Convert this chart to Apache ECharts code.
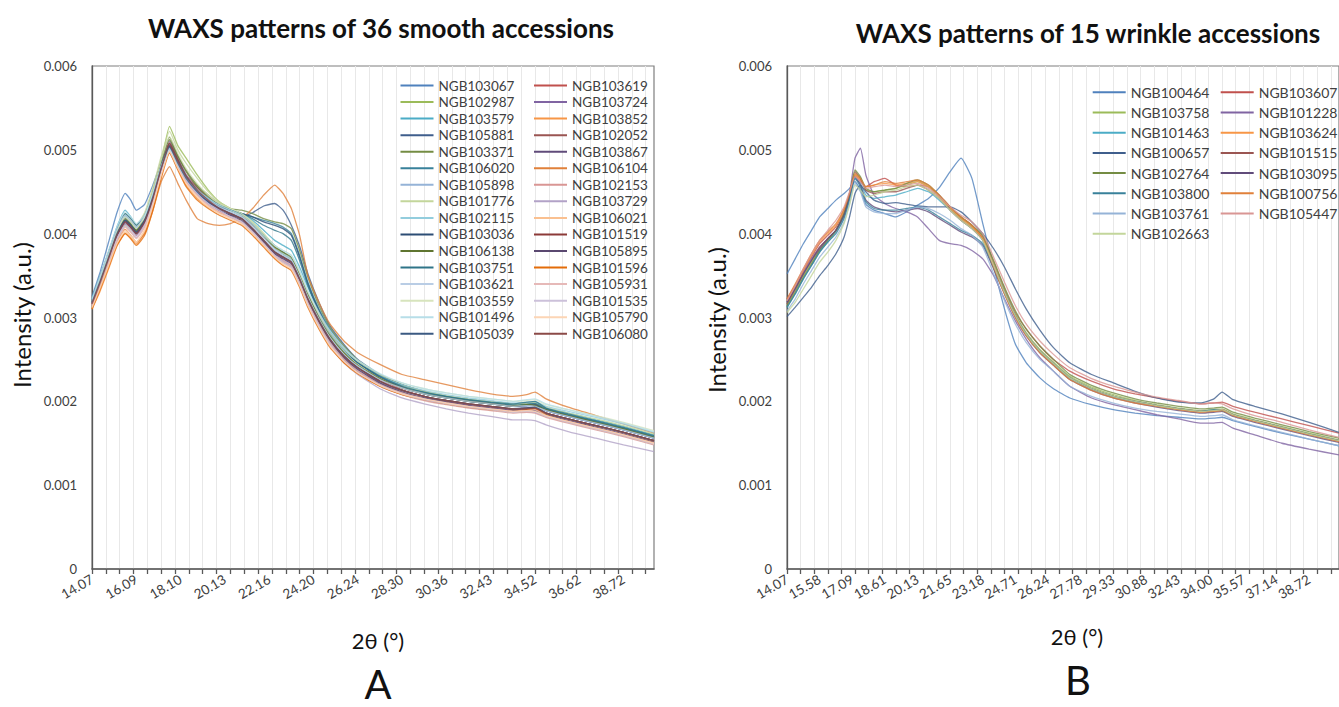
<!DOCTYPE html>
<html><head><meta charset="utf-8">
<script src="https://cdn.jsdelivr.net/npm/echarts@6/dist/echarts.min.js"></script>
<style>html,body{margin:0;padding:0;background:#fff}#c{width:1339px;height:707px}</style>
</head><body><div id="c"></div>
<script>
// ---------- DATA ----------
// x: channel index along the 2θ axis (one tick every 5 channels); tick labels are 2θ (°)
const tickLabelsA = ['14.07','16.09','18.10','20.13','22.16','24.20','26.24','28.30','30.36','32.43','34.52','36.62','38.72'];
const tickLabelsB = ['14.07','15.58','17.09','18.61','20.13','21.65','23.18','24.71','26.24','27.78','29.33','30.88','32.43','34.00','35.57','37.14','38.72'];
const xA = [0,3,6,9,12,14,16,19,22,25,28,31,34,38,42,46,50,54,58,62,66,69,72,75,78,82,86,91,96,104,112,120,128,136,144,152,157,160,164,172,182,192,203];
const xB = [0,3,6,9,12,15,18,21,23,25,27,29,32,36,40,44,48,52,56,60,64,68,72,76,80,84,88,93,98,104,112,120,128,136,144,152,157,160,164,172,182,192,203];
const UNIT = 1e-5; // intensities below are in 1e-5 a.u.

// Panel A: smooth accessions
const A_NGB103067 = [325,355,390,425,448,440,428,435,458,485,505,484,465,450,438,430,425,420,410,398,386,378,370,348,326,300,278,258,243,227,216,209,204,200,197,194,193,192,189,182,174,166,156];
const A_NGB103619 = [316,340,368,395,412,407,398,410,440,476,503,488,470,455,442,432,425,420,410,396,383,376,370,350,328,302,280,258,242,226,214,206,200,196,193,190,191,192,186,179,171,163,153];
const A_NGB102987 = [312,338,365,392,410,405,400,415,445,485,528,505,490,470,452,438,430,424,414,400,385,376,368,345,322,296,275,256,242,227,217,210,205,201,198,195,196,195,190,183,176,168,158];
const A_NGB103724 = [320,345,370,398,415,410,402,416,442,478,510,490,470,453,440,431,424,418,405,390,376,370,364,344,320,294,272,252,238,222,211,204,199,195,192,189,190,191,184,177,169,161,151];
const A_NGB103579 = [322,350,378,408,428,420,410,420,446,480,500,482,466,452,442,434,428,424,416,404,392,386,380,360,336,308,284,262,246,229,218,211,206,202,199,196,197,198,192,186,178,170,160];
const A_NGB103852 = [310,332,358,385,400,395,388,402,432,470,500,478,458,442,432,425,420,412,400,386,372,366,360,340,316,290,268,250,236,220,210,203,198,194,191,188,189,190,183,176,168,160,151];
const A_NGB105881 = [318,344,372,402,420,414,406,418,444,478,498,480,462,448,436,428,422,420,425,433,436,428,410,385,352,318,290,268,250,232,220,212,206,202,198,196,198,197,191,184,176,168,158];
const A_NGB102052 = [320,346,374,400,416,410,404,418,446,482,508,488,468,452,440,430,424,418,406,392,378,372,366,346,322,296,274,254,240,224,213,206,201,197,194,191,192,191,186,179,171,163,153];
const A_NGB103371 = [316,342,370,398,416,411,404,418,448,488,515,494,476,458,446,436,430,428,424,418,414,412,406,380,348,314,288,266,249,232,220,212,206,202,198,195,196,197,190,183,175,167,157];
const A_NGB103867 = [318,344,370,396,412,407,400,414,442,476,504,486,466,450,438,428,420,414,402,388,374,368,362,342,318,292,270,250,236,220,209,202,197,193,190,187,188,187,182,175,167,159,149];
const A_NGB106020 = [320,348,376,404,422,416,408,420,446,480,502,484,466,452,442,434,428,424,420,416,412,408,400,374,342,310,286,264,248,231,219,211,206,202,199,196,197,198,191,184,176,168,158];
const A_NGB106104 = [312,336,362,390,405,398,390,400,428,462,480,460,440,418,412,410,412,418,430,446,458,448,430,398,350,318,292,272,258,244,232,226,220,214,209,206,208,211,203,193,183,173,162];
const A_NGB105898 = [322,350,378,406,424,418,410,420,446,478,496,478,462,448,438,430,424,418,406,392,380,374,368,348,324,298,276,256,242,227,216,209,204,200,197,194,195,194,189,182,174,166,156];
const A_NGB102153 = [314,340,366,392,408,402,395,408,436,472,498,480,462,446,434,426,420,414,402,388,374,366,360,340,316,290,268,248,234,218,208,201,196,192,189,186,187,186,181,174,166,158,148];
const A_NGB101776 = [318,346,376,404,424,418,410,425,455,492,522,500,484,466,450,438,430,424,412,398,384,377,370,350,326,300,278,258,244,228,218,212,207,203,200,197,198,199,193,186,179,171,161];
const A_NGB103729 = [316,342,368,395,412,406,398,412,440,474,500,482,464,448,436,428,420,414,402,388,374,366,360,338,314,288,266,246,232,215,204,197,191,186,182,178,178,177,172,164,156,148,140];
const A_NGB102115 = [320,348,376,404,420,414,406,418,446,482,506,486,468,452,440,432,426,420,410,396,382,376,370,350,328,302,280,260,246,230,220,213,208,204,201,198,199,200,194,188,181,173,163];
const A_NGB106021 = [312,336,362,388,402,396,390,404,434,470,498,478,460,444,432,424,418,412,400,386,372,364,358,338,314,288,266,246,233,218,208,202,197,193,190,187,188,188,182,175,167,159,149];
const A_NGB103036 = [318,344,372,400,416,410,402,416,444,480,506,486,468,452,440,432,428,424,420,414,410,406,398,372,340,308,283,262,246,229,217,209,204,200,197,194,195,196,189,182,174,166,156];
const A_NGB101519 = [316,342,370,398,414,408,401,415,444,480,508,488,468,452,440,430,424,418,406,392,378,372,366,346,322,296,274,254,240,224,213,206,201,197,194,191,192,193,186,179,171,163,153];
const A_NGB106138 = [320,346,374,402,418,412,404,420,450,486,512,492,474,456,444,434,428,422,412,398,384,378,372,352,328,300,278,258,243,227,216,209,204,200,197,194,196,195,190,183,175,167,157];
const A_NGB105895 = [318,344,372,398,414,408,400,414,442,478,504,484,466,450,438,428,422,416,404,390,376,370,364,344,320,294,272,252,238,222,211,204,199,195,192,189,190,189,184,177,169,161,151];
const A_NGB103751 = [322,350,378,406,424,418,410,422,448,482,504,486,468,452,442,434,428,424,418,410,404,400,392,368,338,306,282,262,246,230,218,211,206,202,199,197,199,200,192,185,177,169,159];
const A_NGB101596 = [310,334,360,386,400,394,386,398,428,466,496,476,456,440,430,422,416,410,398,384,370,362,356,336,312,286,264,246,233,218,208,202,197,193,190,188,190,191,184,176,168,160,150];
const A_NGB103621 = [320,348,376,404,422,416,408,420,446,480,502,484,466,450,440,432,426,420,408,394,380,374,368,348,324,298,276,256,242,226,216,209,204,200,197,194,195,194,189,182,174,166,156];
const A_NGB105931 = [314,340,366,392,408,402,394,408,436,472,500,480,462,446,434,426,420,414,402,388,374,368,362,342,318,292,270,250,236,220,210,203,198,194,191,188,189,190,183,176,168,160,150];
const A_NGB103559 = [318,346,374,402,420,414,406,420,450,488,516,496,478,460,446,436,430,424,414,400,386,380,374,354,330,304,282,262,248,232,222,215,210,206,203,200,201,202,196,190,183,175,165];
const A_NGB101535 = [316,342,368,394,410,404,396,410,438,474,500,482,464,448,436,428,420,414,402,388,374,366,360,340,316,290,268,248,234,219,209,202,197,193,190,187,188,187,182,175,167,159,149];
const A_NGB101496 = [322,350,380,408,426,420,412,422,448,480,500,482,466,452,442,434,428,422,412,398,386,380,374,356,332,306,284,264,249,233,222,215,210,206,203,200,202,203,197,190,182,174,164];
const A_NGB105790 = [312,336,362,388,404,398,390,404,434,470,498,478,460,444,432,424,418,412,400,386,372,364,358,338,314,288,266,248,234,219,209,203,198,194,191,188,189,188,183,176,168,160,150];
const A_NGB105039 = [318,344,372,400,416,410,402,416,444,478,504,484,466,450,438,430,424,418,406,392,378,372,366,346,322,296,274,254,240,224,213,206,201,197,194,191,192,193,186,179,171,163,153];
const A_NGB106080 = [316,342,370,398,414,408,400,414,442,478,506,486,468,452,440,430,424,418,406,392,378,372,366,346,322,296,274,254,240,224,213,206,201,197,194,191,191,192,186,179,171,163,153];

// Panel B: wrinkle accessions
const B_NGB100464 = [352,370,388,404,420,430,440,448,454,462,452,435,428,424,420,426,434,442,455,474,490,466,412,360,310,268,246,228,215,204,196,190,186,183,181,179,180,181,177,170,162,155,147];
const B_NGB103607 = [322,338,356,372,388,398,408,428,448,470,462,456,462,466,458,456,458,456,446,432,420,410,396,366,334,306,286,266,250,236,224,215,209,204,200,197,198,199,194,187,179,171,162];
const B_NGB103758 = [316,332,350,366,380,392,404,424,444,470,466,452,450,452,454,458,462,456,444,430,418,408,394,364,332,304,282,262,247,230,217,208,201,196,192,189,190,191,185,178,170,162,154];
const B_NGB101228 = [318,336,354,370,384,394,404,422,448,490,502,470,446,436,430,426,420,406,392,388,386,380,370,350,322,296,274,252,236,218,204,196,190,184,179,174,174,175,168,160,150,143,136];
const B_NGB101463 = [312,328,346,362,378,390,402,420,440,466,460,446,442,444,446,450,454,450,440,428,416,406,392,362,330,302,280,260,245,228,215,206,200,195,191,188,189,190,184,177,169,161,153];
const B_NGB103624 = [320,338,356,374,390,400,410,428,446,470,464,456,458,460,458,460,462,456,444,430,418,408,394,362,330,302,280,260,245,228,215,206,200,195,191,188,188,190,184,177,169,161,153];
const B_NGB100657 = [301,312,324,336,350,362,376,396,420,448,458,450,440,436,437,435,433,432,432,432,426,414,400,382,360,334,310,285,264,246,232,222,212,204,199,198,203,211,202,194,185,175,163];
const B_NGB101515 = [316,334,352,368,384,394,404,424,446,474,466,452,448,450,450,454,458,452,442,428,416,406,392,362,330,302,280,260,245,228,215,206,200,195,191,188,189,190,184,177,169,161,153];
const B_NGB102764 = [314,330,348,364,380,392,404,424,446,476,468,454,450,452,454,460,464,458,446,432,420,410,398,368,336,308,286,266,250,232,219,210,203,198,194,191,192,193,187,180,172,164,156];
const B_NGB103095 = [318,334,352,368,382,394,404,422,444,468,458,440,432,428,426,428,430,426,418,410,402,396,386,358,328,300,278,258,243,226,213,204,198,193,189,186,187,188,182,175,167,159,151];
const B_NGB103800 = [312,328,346,362,378,390,400,418,440,466,456,438,430,428,428,430,432,428,420,412,404,398,388,360,330,302,280,260,245,228,215,206,200,195,191,188,190,189,184,177,169,161,153];
const B_NGB100756 = [322,340,358,376,392,402,412,430,448,472,466,456,458,462,460,462,464,458,446,432,420,410,394,360,328,300,278,258,243,226,213,204,198,194,190,187,188,189,183,176,168,160,152];
const B_NGB103761 = [308,322,340,356,372,384,396,414,436,460,450,432,426,424,424,428,432,430,424,416,406,398,384,352,320,292,270,250,236,218,206,198,192,188,185,182,183,184,178,171,163,155,147];
const B_NGB105447 = [320,338,358,376,392,404,416,432,450,468,462,454,456,458,456,458,460,454,444,432,422,414,400,372,342,314,292,272,256,240,227,218,211,205,201,197,198,197,191,183,175,166,157];
const B_NGB102663 = [306,318,334,350,366,378,392,412,434,458,452,444,446,450,452,456,458,452,442,428,416,406,392,362,330,302,280,260,245,228,215,206,200,195,191,188,189,190,184,177,169,161,153];

const seriesA = [
 ['NGB103067',A_NGB103067],['NGB103619',A_NGB103619],['NGB102987',A_NGB102987],['NGB103724',A_NGB103724],
 ['NGB103579',A_NGB103579],['NGB103852',A_NGB103852],['NGB105881',A_NGB105881],['NGB102052',A_NGB102052],
 ['NGB103371',A_NGB103371],['NGB103867',A_NGB103867],['NGB106020',A_NGB106020],['NGB106104',A_NGB106104],
 ['NGB105898',A_NGB105898],['NGB102153',A_NGB102153],['NGB101776',A_NGB101776],['NGB103729',A_NGB103729],
 ['NGB102115',A_NGB102115],['NGB106021',A_NGB106021],['NGB103036',A_NGB103036],['NGB101519',A_NGB101519],
 ['NGB106138',A_NGB106138],['NGB105895',A_NGB105895],['NGB103751',A_NGB103751],['NGB101596',A_NGB101596],
 ['NGB103621',A_NGB103621],['NGB105931',A_NGB105931],['NGB103559',A_NGB103559],['NGB101535',A_NGB101535],
 ['NGB101496',A_NGB101496],['NGB105790',A_NGB105790],['NGB105039',A_NGB105039],['NGB106080',A_NGB106080]
];
const seriesB = [
 ['NGB100464',B_NGB100464],['NGB103607',B_NGB103607],['NGB103758',B_NGB103758],['NGB101228',B_NGB101228],
 ['NGB101463',B_NGB101463],['NGB103624',B_NGB103624],['NGB100657',B_NGB100657],['NGB101515',B_NGB101515],
 ['NGB102764',B_NGB102764],['NGB103095',B_NGB103095],['NGB103800',B_NGB103800],['NGB100756',B_NGB100756],
 ['NGB103761',B_NGB103761],['NGB105447',B_NGB105447],['NGB102663',B_NGB102663]
];

// ---------- STYLE ----------
const palette = ['#4F81BD','#C0504D','#9BBB59','#8064A2','#4BACC6','#F79646',
 '#3F5E8C','#9A5552','#748C43','#604B7A','#38819A','#E0803A',
 '#95B3D7','#D99694','#C3D69B','#B2A2C7','#93CDDD','#FAC090',
 '#2C4D75','#8C3A38','#5F7530','#5A4870','#2F7488','#E36C09',
 '#B9CDE5','#E6B9B8','#D7E4BD','#CCC1DA','#B7DEE8','#FCD5B5',
 '#3B5A82','#8B4A47'];
const FONT = 'Lato, "Open Sans", sans-serif';
const TXT = '#404040';

function mkSeries(list, xs, gi) {
  return list.map(([name, vals], k) => ({
    type: 'line', name, xAxisIndex: gi, yAxisIndex: gi,
    data: xs.map((x, i) => [x, vals[i] * UNIT]),
    symbol: 'none', smooth: 0.15, silent: true,
    lineStyle: { width: 1.3, color: palette[k], opacity: 0.8 },
    itemStyle: { color: palette[k] },
    z: 2
  }));
}
const ticks = []; for (let v = 0; v <= 200; v += 5) ticks.push(v);
function mkX(gi, labels, step) {
  return {
    type: 'value', gridIndex: gi, min: 0, max: 203, interval: 5,
    axisLine: { show: true, onZero: false, lineStyle: { color: '#595959', width: 1.5 } },
    axisTick: { show: true, length: 5, customValues: ticks, lineStyle: { color: '#595959', width: 1.3 } },
    splitLine: { show: true, lineStyle: { color: '#e8e8e8', width: 1 } },
    axisLabel: {
      customValues: labels.map((_, k) => k * step),
      formatter: v => (v % step === 0 && labels[v / step] !== undefined) ? labels[v / step] : '',
      rotate: 30, margin: 9, fontSize: 13.5, color: TXT, fontFamily: FONT
    }
  };
}
function mkY(gi) {
  return {
    type: 'value', gridIndex: gi, min: 0, max: 0.006, interval: 0.001,
    axisLine: { show: true, lineStyle: { color: '#595959', width: 1.3 } },
    axisTick: { show: false }, splitLine: { show: false },
    axisLabel: { margin: 15, fontSize: 13, color: TXT, fontFamily: FONT,
      formatter: v => v === 0 ? '0' : v.toFixed(3) }
  };
}
function legendCol(names, left, top, fs, lh, gap) {
  return { orient: 'vertical', left, top, padding: 0, itemGap: gap, itemWidth: 33, itemHeight: 2,
    icon: 'rect', selectedMode: false, data: names,
    textStyle: { fontFamily: FONT, fontSize: fs, lineHeight: lh, color: TXT } };
}
const colA1 = seriesA.filter((_, k) => k % 2 === 0).map(s => s[0]);
const colA2 = seriesA.filter((_, k) => k % 2 === 1).map(s => s[0]);
const colB1 = seriesB.filter((_, k) => k % 2 === 0).map(s => s[0]);
const colB2 = seriesB.filter((_, k) => k % 2 === 1).map(s => s[0]);

const texts = [
  { x: 381, y: 28, t: 'WAXS patterns of 36 smooth accessions', f: `bold 26px ${FONT}` },
  { x: 1088, y: 33, t: 'WAXS patterns of 15 wrinkle accessions', f: `bold 26px ${FONT}` },
  { x: 21, y: 315, t: 'Intensity (a.u.)', f: `24px ${FONT}`, r: Math.PI / 2 },
  { x: 716, y: 320, t: 'Intensity (a.u.)', f: `24px ${FONT}`, r: Math.PI / 2 },
  { x: 378, y: 640, t: '2θ (°)', f: `22px ${FONT}` },
  { x: 1077, y: 636, t: '2θ (°)', f: `22px ${FONT}` },
  { x: 378, y: 684, t: 'A', f: `40px ${FONT}` },
  { x: 1078, y: 680, t: 'B', f: `40px ${FONT}` }
];

const chart = echarts.init(document.getElementById('c'), null, { renderer: 'svg', width: 1339, height: 707 });
chart.setOption({
  animation: false,
  backgroundColor: '#fff',
  grid: [
    { left: 92, top: 66, width: 562, height: 503, show: true, borderColor: '#7f7f7f', borderWidth: 1.2, containLabel: false },
    { left: 787, top: 66, width: 561.3, height: 503, show: true, borderColor: '#7f7f7f', borderWidth: 1.2, containLabel: false }
  ],
  xAxis: [mkX(0, tickLabelsA, 16), mkX(1, tickLabelsB, 12)],
  yAxis: [mkY(0), mkY(1)],
  legend: [
    legendCol(colA1, 400.5, 78.5, 13.5, 13, 2.55),
    legendCol(colA2, 534, 78.5, 13.5, 13, 2.55),
    legendCol(colB1, 1092.7, 85.3, 14, 14, 6.2),
    legendCol(colB2, 1220.7, 85.3, 14, 14, 6.2)
  ],
  series: mkSeries(seriesA, xA, 0).concat(mkSeries(seriesB, xB, 1)),
  graphic: texts.map(o => ({
    type: 'text', x: o.x, y: o.y, rotation: o.r || 0, silent: true,
    style: { text: o.t, font: o.f, fill: '#111', align: 'center', verticalAlign: 'middle',
      textAlign: 'center', textVerticalAlign: 'middle' }
  }))
});
</script></body></html>
